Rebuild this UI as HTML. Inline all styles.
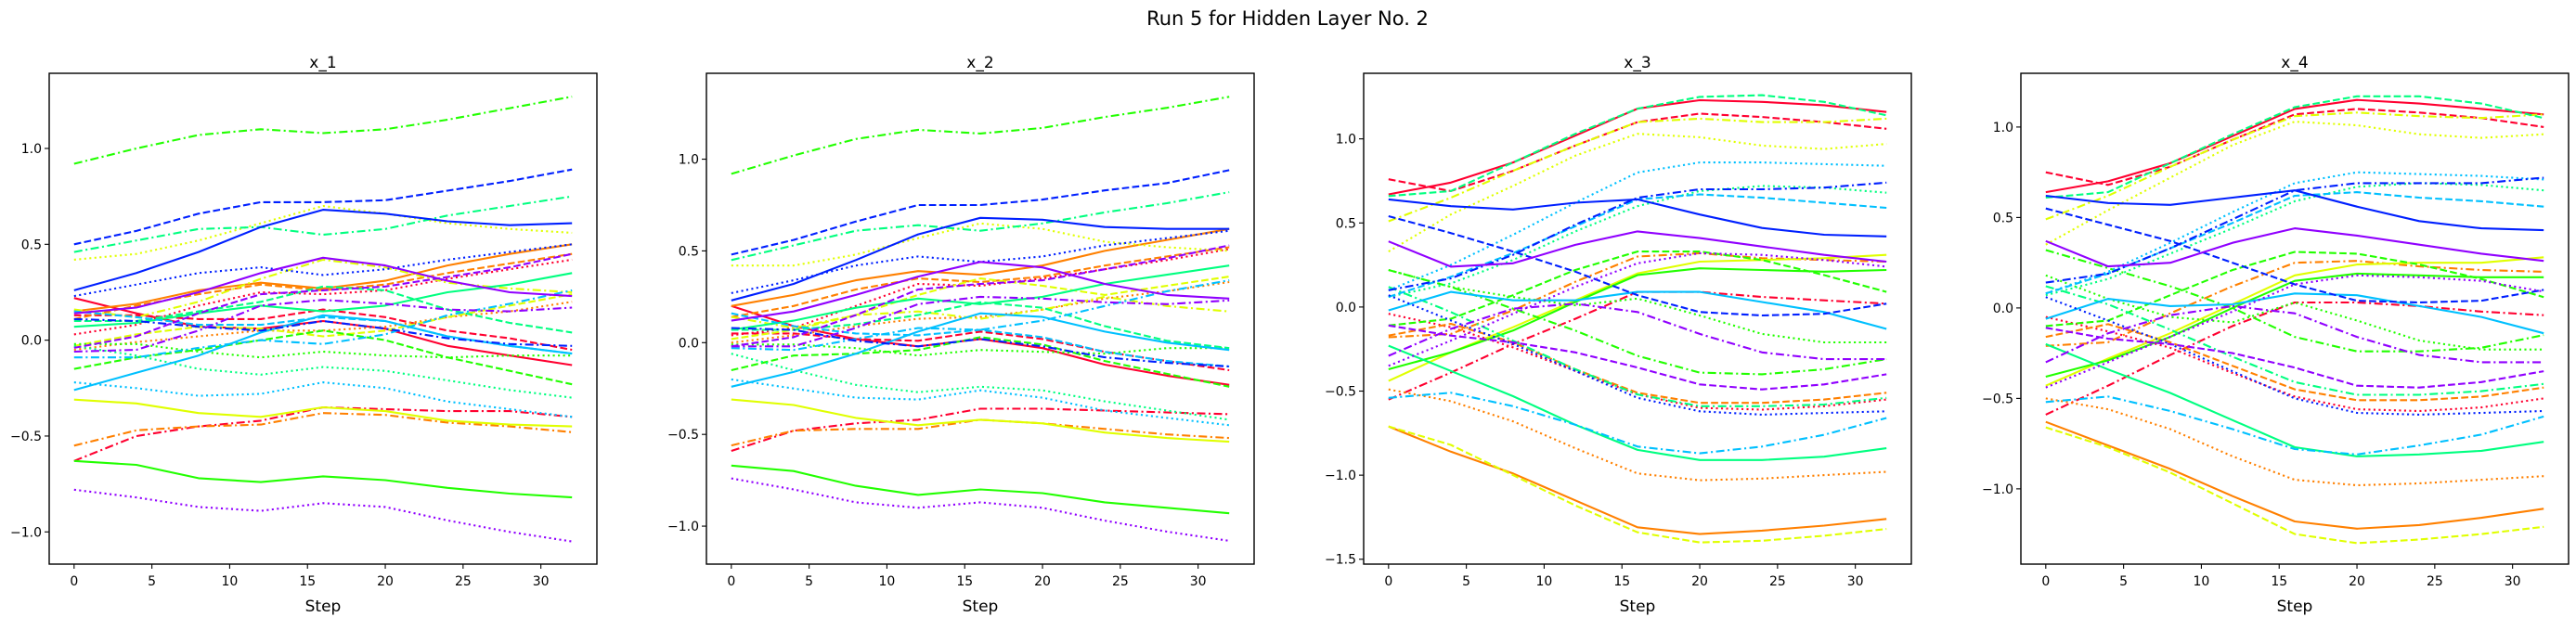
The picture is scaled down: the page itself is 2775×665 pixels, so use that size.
<!DOCTYPE html>
<html><head><meta charset="utf-8"><style>
html,body{margin:0;padding:0;background:#fff;}
svg{display:block;font-family:"DejaVu Sans","Liberation Sans",sans-serif;}
</style></head><body>
<svg id="fig" width="2775" height="665" viewBox="0 0 2775 665" xmlns="http://www.w3.org/2000/svg">
<rect x="0" y="0" width="2775" height="665" fill="#fff"/>
<text x="1387" y="27" font-size="21" text-anchor="middle" fill="#000">Run 5 for Hidden Layer No. 2</text>
</svg>
<script>
const steps = [0,4,8,12,16,20,24,28,32];
const xTicks = [0,5,10,15,20,25,30];
const seriesColors = ["#ff0030","#ff8000","#e0ff00","#22ff00","#00ff80","#00c0ff","#0020ff","#9000ff"];
const colorNames = ["red","orange","yellow","green","spring","sky","blue","purple"];
const seriesStyles = ["solid","dashed","dotted","dashdot"];
const panelTitles = ["x_1","x_2","x_3","x_4"];
const yTicks1 = [-1.0,-0.5,0.0,0.5,1.0];
const yTicks2 = [-1.0,-0.5,0.0,0.5,1.0];
const yTicks3 = [-1.5,-1.0,-0.5,0.0,0.5,1.0];
const yTicks4 = [-1.0,-0.5,0.0,0.5,1.0];
const yRange1 = [-1.168,1.392];
const yRange2 = [-1.207,1.468];
const yRange3 = [-1.529,1.390];
const yRange4 = [-1.416,1.297];

// order: per color -> solid, dashed, dotted, dashdot
const x1Values = [
[0.22,0.14,0.07,0.06,0.10,0.06,-0.03,-0.08,-0.13],[0.13,0.13,0.11,0.11,0.16,0.12,0.05,0.01,-0.05],[0.03,0.08,0.18,0.25,0.24,0.26,0.32,0.37,0.42],[-0.63,-0.50,-0.45,-0.42,-0.35,-0.36,-0.37,-0.37,-0.40],
[0.15,0.19,0.26,0.30,0.27,0.31,0.39,0.45,0.50],[0.11,0.18,0.24,0.29,0.26,0.29,0.35,0.40,0.45],[-0.05,-0.01,0.02,0.05,0.05,0.07,0.12,0.15,0.20],[-0.55,-0.47,-0.45,-0.44,-0.38,-0.39,-0.43,-0.45,-0.48],
[-0.31,-0.33,-0.38,-0.40,-0.35,-0.37,-0.42,-0.44,-0.45],[-0.03,0.03,0.07,0.06,0.02,0.05,0.12,0.18,0.24],[0.42,0.45,0.52,0.61,0.70,0.66,0.61,0.58,0.56],[0.16,0.12,0.20,0.32,0.42,0.38,0.30,0.27,0.25],
[-0.63,-0.65,-0.72,-0.74,-0.71,-0.73,-0.77,-0.80,-0.82],[-0.15,-0.09,-0.05,0.00,0.05,0.00,-0.09,-0.16,-0.23],[-0.02,-0.02,-0.06,-0.09,-0.06,-0.08,-0.09,-0.08,-0.08],[0.92,1.00,1.07,1.10,1.08,1.10,1.15,1.21,1.27],
[0.07,0.09,0.14,0.18,0.15,0.18,0.25,0.29,0.35],[0.10,0.10,0.15,0.20,0.28,0.26,0.16,0.09,0.04],[-0.03,-0.08,-0.15,-0.18,-0.14,-0.16,-0.21,-0.26,-0.30],[0.46,0.52,0.58,0.59,0.55,0.58,0.65,0.70,0.75],
[-0.26,-0.17,-0.08,0.04,0.13,0.10,0.02,-0.03,-0.07],[0.15,0.12,0.08,0.08,0.12,0.10,0.02,-0.03,-0.07],[-0.22,-0.25,-0.29,-0.28,-0.22,-0.25,-0.32,-0.36,-0.40],[-0.09,-0.09,-0.04,0.00,-0.02,0.03,0.13,0.19,0.26],
[0.26,0.35,0.46,0.59,0.68,0.66,0.62,0.60,0.61],[0.50,0.57,0.66,0.72,0.72,0.73,0.78,0.83,0.89],[0.23,0.29,0.35,0.38,0.34,0.37,0.42,0.46,0.50],[0.11,0.10,0.07,0.05,0.10,0.06,0.01,-0.02,-0.03],
[0.14,0.17,0.25,0.35,0.43,0.39,0.31,0.25,0.23],[-0.04,0.02,0.14,0.24,0.26,0.28,0.33,0.38,0.45],[-0.78,-0.82,-0.87,-0.89,-0.85,-0.87,-0.94,-1.00,-1.05],[-0.06,-0.05,0.05,0.18,0.21,0.19,0.16,0.15,0.17]
];
const x2Values = [
[0.20,0.09,0.02,-0.02,0.02,-0.03,-0.12,-0.18,-0.23],[0.05,0.05,0.02,0.01,0.06,0.02,-0.05,-0.10,-0.15],[0.04,0.08,0.20,0.32,0.31,0.35,0.40,0.45,0.51],[-0.59,-0.48,-0.44,-0.42,-0.36,-0.36,-0.37,-0.38,-0.39],
[0.20,0.26,0.34,0.39,0.37,0.42,0.50,0.56,0.62],[0.14,0.20,0.29,0.35,0.33,0.36,0.42,0.47,0.52],[0.00,0.04,0.09,0.13,0.14,0.18,0.24,0.28,0.33],[-0.56,-0.48,-0.47,-0.47,-0.42,-0.44,-0.47,-0.50,-0.52],
[-0.31,-0.34,-0.41,-0.45,-0.42,-0.44,-0.49,-0.52,-0.54],[0.02,0.07,0.15,0.26,0.35,0.31,0.26,0.31,0.36],[0.42,0.42,0.48,0.57,0.65,0.62,0.55,0.52,0.50],[0.14,0.08,0.15,0.17,0.13,0.18,0.25,0.20,0.17],
[-0.67,-0.70,-0.78,-0.83,-0.80,-0.82,-0.87,-0.90,-0.93],[-0.15,-0.07,-0.06,-0.04,0.03,-0.01,-0.10,-0.17,-0.24],[-0.01,-0.01,-0.03,-0.07,-0.04,-0.05,-0.06,-0.03,-0.03],[0.92,1.02,1.11,1.16,1.14,1.17,1.23,1.28,1.34],
[0.07,0.12,0.19,0.24,0.21,0.25,0.32,0.37,0.42],[0.07,0.07,0.10,0.15,0.22,0.19,0.09,0.01,-0.03],[-0.06,-0.15,-0.23,-0.27,-0.24,-0.26,-0.32,-0.37,-0.42],[0.45,0.53,0.61,0.64,0.61,0.65,0.71,0.76,0.82],
[-0.24,-0.16,-0.06,0.06,0.16,0.14,0.06,0.00,-0.04],[0.16,0.09,0.05,0.04,0.07,0.03,-0.05,-0.10,-0.13],[-0.20,-0.25,-0.30,-0.31,-0.26,-0.30,-0.37,-0.41,-0.45],[-0.03,-0.04,0.02,0.08,0.07,0.12,0.20,0.28,0.34],
[0.23,0.32,0.45,0.59,0.68,0.67,0.63,0.62,0.62],[0.48,0.56,0.66,0.75,0.75,0.78,0.83,0.87,0.94],[0.27,0.34,0.42,0.47,0.44,0.47,0.53,0.57,0.61],[0.08,0.07,0.01,-0.02,0.02,-0.02,-0.08,-0.11,-0.13],
[0.12,0.17,0.26,0.36,0.44,0.41,0.32,0.26,0.24],[-0.02,0.03,0.15,0.29,0.32,0.34,0.40,0.46,0.53],[-0.74,-0.80,-0.87,-0.90,-0.87,-0.90,-0.97,-1.03,-1.08],[-0.02,-0.02,0.08,0.21,0.25,0.24,0.22,0.21,0.23]
];
const x3Values = [
[0.67,0.74,0.86,1.02,1.18,1.23,1.22,1.20,1.16],[0.76,0.69,0.81,0.96,1.10,1.15,1.13,1.10,1.06],[-0.04,-0.12,-0.24,-0.38,-0.52,-0.60,-0.61,-0.59,-0.55],[-0.55,-0.39,-0.22,-0.07,0.09,0.09,0.06,0.04,0.02],
[-0.71,-0.86,-0.99,-1.15,-1.31,-1.35,-1.33,-1.30,-1.26],[-0.17,-0.10,-0.21,-0.37,-0.51,-0.57,-0.57,-0.55,-0.51],[-0.49,-0.56,-0.68,-0.84,-0.99,-1.03,-1.02,-1.00,-0.98],[-0.18,-0.16,-0.02,0.15,0.30,0.32,0.29,0.28,0.27],
[-0.44,-0.27,-0.12,0.04,0.20,0.27,0.28,0.29,0.31],[-0.71,-0.82,-1.00,-1.18,-1.34,-1.40,-1.39,-1.36,-1.32],[0.33,0.55,0.72,0.90,1.03,1.01,0.96,0.94,0.97],[0.51,0.65,0.81,0.96,1.10,1.12,1.10,1.10,1.12],
[-0.37,-0.27,-0.14,0.03,0.19,0.23,0.22,0.21,0.22],[-0.11,-0.07,0.07,0.22,0.33,0.33,0.28,0.19,0.09],[0.22,0.12,0.06,0.01,0.05,-0.05,-0.16,-0.21,-0.21],[0.22,0.12,-0.01,-0.14,-0.29,-0.39,-0.40,-0.37,-0.31],
[-0.23,-0.38,-0.53,-0.70,-0.85,-0.91,-0.91,-0.89,-0.84],[0.66,0.69,0.86,1.03,1.18,1.25,1.26,1.22,1.14],[0.06,0.14,0.28,0.45,0.60,0.69,0.72,0.71,0.68],[0.12,-0.03,-0.20,-0.37,-0.52,-0.59,-0.59,-0.58,-0.54],
[-0.02,0.09,0.04,0.04,0.09,0.09,0.03,-0.03,-0.13],[0.06,0.18,0.32,0.48,0.64,0.67,0.65,0.62,0.59],[0.10,0.25,0.43,0.62,0.80,0.86,0.86,0.85,0.84],[-0.54,-0.51,-0.59,-0.70,-0.83,-0.87,-0.83,-0.76,-0.66],
[0.64,0.60,0.58,0.62,0.64,0.55,0.47,0.43,0.42],[0.54,0.44,0.33,0.21,0.07,-0.03,-0.05,-0.04,0.02],[0.07,-0.08,-0.22,-0.38,-0.54,-0.62,-0.64,-0.63,-0.62],[0.10,0.17,0.31,0.49,0.65,0.70,0.70,0.71,0.74],
[0.39,0.24,0.26,0.37,0.45,0.41,0.36,0.31,0.27],[-0.11,-0.17,-0.21,-0.27,-0.36,-0.46,-0.49,-0.46,-0.40],[-0.35,-0.20,-0.04,0.12,0.26,0.32,0.31,0.28,0.24],[-0.29,-0.13,-0.01,0.02,-0.03,-0.16,-0.27,-0.31,-0.31]
];
const x4Values = [
[0.64,0.70,0.80,0.95,1.10,1.15,1.13,1.10,1.07],[0.75,0.68,0.78,0.93,1.07,1.10,1.08,1.05,1.00],[-0.05,-0.13,-0.22,-0.36,-0.49,-0.56,-0.57,-0.55,-0.50],[-0.59,-0.43,-0.26,-0.10,0.03,0.03,0.01,-0.02,-0.04],
[-0.63,-0.76,-0.89,-1.04,-1.18,-1.22,-1.20,-1.16,-1.11],[-0.16,-0.09,-0.19,-0.32,-0.45,-0.51,-0.51,-0.49,-0.44],[-0.50,-0.56,-0.67,-0.82,-0.95,-0.98,-0.97,-0.95,-0.93],[-0.21,-0.19,-0.03,0.12,0.25,0.26,0.23,0.21,0.20],
[-0.43,-0.28,-0.14,0.02,0.18,0.24,0.25,0.25,0.28],[-0.66,-0.77,-0.91,-1.08,-1.25,-1.30,-1.28,-1.25,-1.21],[0.35,0.54,0.72,0.90,1.03,1.01,0.96,0.94,0.96],[0.49,0.62,0.78,0.93,1.06,1.08,1.06,1.05,1.07],
[-0.38,-0.29,-0.16,0.00,0.15,0.19,0.18,0.17,0.17],[-0.10,-0.07,0.07,0.21,0.31,0.30,0.24,0.16,0.06],[0.18,0.05,-0.05,-0.08,0.03,-0.07,-0.18,-0.23,-0.23],[0.32,0.22,0.12,0.00,-0.16,-0.24,-0.24,-0.22,-0.15],
[-0.20,-0.34,-0.47,-0.62,-0.77,-0.82,-0.81,-0.79,-0.74],[0.61,0.64,0.80,0.96,1.11,1.17,1.17,1.13,1.05],[0.07,0.16,0.30,0.44,0.59,0.67,0.69,0.68,0.65],[0.12,0.02,-0.12,-0.27,-0.41,-0.48,-0.48,-0.46,-0.42],
[-0.06,0.05,0.01,0.02,0.08,0.07,0.01,-0.05,-0.14],[0.08,0.19,0.33,0.47,0.62,0.64,0.61,0.59,0.56],[0.08,0.20,0.36,0.53,0.69,0.75,0.74,0.73,0.71],[-0.52,-0.49,-0.57,-0.67,-0.78,-0.81,-0.76,-0.70,-0.60],
[0.62,0.58,0.57,0.61,0.65,0.56,0.48,0.44,0.43],[0.55,0.46,0.37,0.25,0.13,0.04,0.03,0.04,0.10],[0.06,-0.07,-0.20,-0.35,-0.50,-0.58,-0.59,-0.58,-0.57],[0.14,0.19,0.33,0.49,0.65,0.69,0.69,0.69,0.72],
[0.37,0.23,0.25,0.36,0.44,0.40,0.35,0.30,0.26],[-0.11,-0.17,-0.20,-0.25,-0.33,-0.43,-0.44,-0.41,-0.35],[-0.44,-0.30,-0.16,-0.02,0.13,0.18,0.17,0.15,0.09],[-0.30,-0.14,-0.04,0.01,-0.03,-0.16,-0.26,-0.30,-0.30]
];

const NS = "http://www.w3.org/2000/svg";
const svg = document.getElementById("fig");
const AX_TOP = 79, AX_H = 529, AX_W = 590, X_MIN = -1.6, X_MAX = 33.6;
const dashMap = {solid:null, dashed:"7.7 3.3", dotted:"2.1 3.4", dashdot:"9 3.5 2.1 3.5"};
function mk(tag, attrs, parent){ const e=document.createElementNS(NS,tag); for(const k in attrs) e.setAttribute(k,attrs[k]); (parent||svg).appendChild(e); return e; }
function fmt(v){ const s=Math.abs(v).toFixed(1); return (v<0?"\u2212":"")+s; }

const panels = [
 {vals:x1Values, ticks:yTicks1, range:yRange1},
 {vals:x2Values, ticks:yTicks2, range:yRange2},
 {vals:x3Values, ticks:yTicks3, range:yRange3},
 {vals:x4Values, ticks:yTicks4, range:yRange4}
];
panels.forEach((p, pi) => {
  const left = 53 + 708*pi;
  const xs = v => left + (v - X_MIN)/(X_MAX - X_MIN)*AX_W;
  const ys = v => AX_TOP + (p.range[1] - v)/(p.range[1] - p.range[0])*AX_H;
  const g = mk("g", {});
  
  
  const clipId = "clip"+pi;
  const cp = mk("clipPath",{id:clipId}, g);
  mk("rect",{x:left,y:AX_TOP,width:AX_W,height:AX_H},cp);
  const lines = mk("g",{"clip-path":"url(#"+clipId+")"}, g);
  p.vals.forEach((row, si) => {
    const ci = Math.floor(si/4), st = seriesStyles[si%4];
    const pts = row.map((v,i)=> xs(steps[i]).toFixed(1)+","+ys(v).toFixed(1)).join(" ");
    const pl = mk("polyline",{points:pts,fill:"none",stroke:seriesColors[ci],"stroke-width":2.1,"stroke-linejoin":"round"}, lines);
    if (dashMap[st]) pl.setAttribute("stroke-dasharray", dashMap[st]);
    
    
  });
  const frame = mk("rect",{x:left,y:AX_TOP,width:AX_W,height:AX_H,fill:"none",stroke:"#000","stroke-width":1.4}, g);
  
  
  xTicks.forEach(t => {
    const x = xs(t);
    mk("line",{x1:x,y1:AX_TOP+AX_H,x2:x,y2:AX_TOP+AX_H+5,stroke:"#000","stroke-width":1.1}, g);
    const tx = mk("text",{x:x,y:AX_TOP+AX_H+23,"font-size":14,"text-anchor":"middle",fill:"#000"}, g);
    tx.textContent = t;
    
    
  });
  p.ticks.forEach(t => {
    const y = ys(t);
    mk("line",{x1:left-5,y1:y,x2:left,y2:y,stroke:"#000","stroke-width":1.1}, g);
    const ty = mk("text",{x:left-8,y:y+5,"font-size":14,"text-anchor":"end",fill:"#000"}, g);
    ty.textContent = fmt(t);
    
    
  });
  const xt = mk("text",{x:left+AX_W/2,y:659,"font-size":17,"text-anchor":"middle",fill:"#000"}, g);
  xt.textContent = "Step";
  
  
  const tt = mk("text",{x:left+AX_W/2,y:73,"font-size":17,"text-anchor":"middle",fill:"#000"}, g);
  tt.textContent = panelTitles[pi];
  
  
});
</script>
</body></html>
